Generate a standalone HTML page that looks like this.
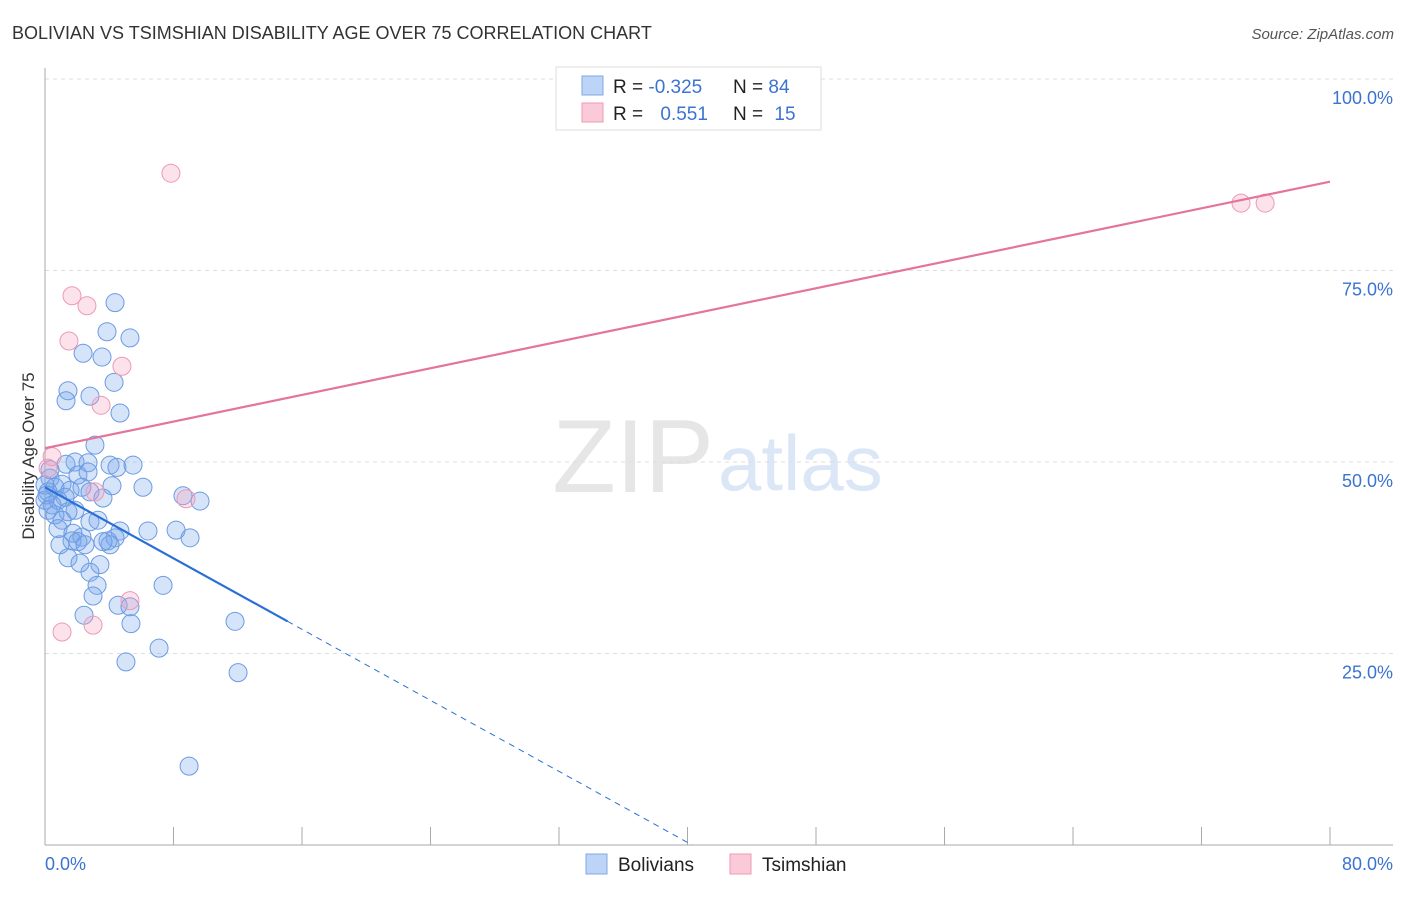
<!DOCTYPE html>
<html><head><meta charset="utf-8"><style>
body{margin:0;background:#fff;font-family:"Liberation Sans",sans-serif}
svg text{font-family:"Liberation Sans",sans-serif}
</style></head><body>
<svg id="c" width="1406" height="892" viewBox="0 0 1406 892" xmlns="http://www.w3.org/2000/svg">
<text x="12" y="39" font-size="18" fill="#333">BOLIVIAN VS TSIMSHIAN DISABILITY AGE OVER 75 CORRELATION CHART</text>
<text x="1394" y="39" font-size="15" fill="#555" font-style="italic" text-anchor="end">Source: ZipAtlas.com</text>
<text x="714" y="492" font-size="104" fill="#e6e6e6" text-anchor="end" font-family="Liberation Serif">ZIP</text>
<text x="718" y="490" font-size="78" fill="#dbe6f6">atlas</text>
<text transform="translate(34,456) rotate(-90)" font-size="17" fill="#333" text-anchor="middle">Disability Age Over 75</text>
<g id="grid"></g><g id="axes"></g><g id="pts"></g><g id="lines"></g>
<g>
<rect x="556" y="67" width="265" height="63" fill="#fff" stroke="#ddd"/>
<rect x="582" y="76" width="21" height="19" fill="#bcd4f5" stroke="#7fa9e8"/>
<rect x="582" y="103" width="21" height="19" fill="#fbcad8" stroke="#ef9ab5"/>
<text x="613" y="93" font-size="19" fill="#222">R = <tspan fill="#3b73d1">-0.325</tspan></text>
<text x="733" y="93" font-size="19" fill="#222">N = <tspan fill="#3b73d1">84</tspan></text>
<text x="613" y="120" font-size="19" fill="#222">R = <tspan fill="#3b73d1" dx="12">0.551</tspan></text>
<text x="733" y="120" font-size="19" fill="#222">N = <tspan fill="#3b73d1" dx="6">15</tspan></text>
</g>
<g>
<rect x="586" y="854" width="21" height="20" fill="#bcd4f5" stroke="#7fa9e8"/>
<text x="618" y="871" font-size="19" fill="#222">Bolivians</text>
<rect x="730" y="854" width="21" height="20" fill="#fbcad8" stroke="#ef9ab5"/>
<text x="762" y="871" font-size="19" fill="#222">Tsimshian</text>
</g>
</svg>
<script>
const blueX=[4.36,3.86,5.29,2.37,3.55,4.30,1.43,1.31,2.80,4.67,3.11,1.87,2.68,1.31,4.05,4.48,5.48,2.05,2.68,0.31,6.10,4.17,1.06,0.62,1.56,0.19,2.30,2.80,3.61,1.25,0.81,0,0.44,1.87,1.43,0.19,0.62,1.06,2.80,3.30,4.67,6.41,8.16,0.81,1.74,2.30,4.36,3.92,1.68,2.05,0.93,2.49,9.03,1.43,2.18,3.42,2.80,3.24,7.35,2.99,4.55,5.29,2.43,5.35,11.83,7.10,5.04,12.02,8.97,8.59,9.65,4.05,3.61,0.31,0,0.12];
const blueY=[70.8,67.0,66.2,64.2,63.7,60.4,59.3,58.0,58.6,56.4,52.2,50.0,49.9,49.7,49.6,49.3,49.6,48.3,48.7,47.9,46.7,46.9,47.1,46.7,46.3,46.1,46.7,46.1,45.3,45.4,45.0,45.0,44.4,43.7,43.5,43.7,43.1,42.4,42.2,42.4,41.0,41.0,41.1,41.3,40.7,40.2,40.1,39.7,39.7,39.6,39.2,39.2,40.1,37.5,36.8,36.6,35.6,33.9,33.9,32.5,31.3,31.1,30.0,28.9,29.2,25.7,23.9,22.5,10.3,45.6,44.9,39.2,39.6,49.0,47.0,45.7];
const pinkX=[7.84,1.68,2.61,1.49,4.79,3.49,0.44,0.19,3.11,8.78,5.29,2.99,1.06,74.46,75.96];
const pinkY=[87.7,71.7,70.4,65.8,62.5,57.4,50.7,49.2,46.1,45.2,31.9,28.7,27.8,83.8,83.8];
const yTicks=[25,50,75,100];
const yTickLabels=["25.0%","50.0%","75.0%","100.0%"];
const xTicks=[0,10,20,30,40,50,60,70,80,90,100].map(i=>i*0.8);
const xEndLabels=["0.0%","80.0%"];
const blueTrend=[46.7,-1.159];
const pinkTrend=[51.8,0.435];
const X=v=>45+v/80*1285, Y=v=>845-v/100*766;
const NS="http://www.w3.org/2000/svg";
function mk(p,t,a){const e=document.createElementNS(NS,t);for(const k in a)e.setAttribute(k,a[k]);p.appendChild(e);return e;}
const grid=document.getElementById('grid'),axes=document.getElementById('axes'),pts=document.getElementById('pts'),lines=document.getElementById('lines');
yTicks.forEach((t,i)=>{
 const l=mk(grid,'line',{x1:45,x2:1393,y1:Y(t),y2:Y(t),stroke:'#ddd','stroke-dasharray':'4,4'});
 
 
 const tx=mk(grid,'text',{x:1393,y:Y(t)+25,'font-size':18,fill:'#3b73d1','text-anchor':'end'});
 tx.textContent=yTickLabels[i];
 
 
});
let a=mk(axes,'line',{x1:45,x2:45,y1:68,y2:845,stroke:'#aaa'});


a=mk(axes,'line',{x1:45,x2:1393,y1:845,y2:845,stroke:'#aaa'});


xTicks.forEach(t=>{
 const l=mk(axes,'line',{x1:X(t),x2:X(t),y1:827,y2:845,stroke:'#aaa'});
 
 
});
let t1=mk(axes,'text',{x:45,y:870,'font-size':18,fill:'#3b73d1'});t1.textContent=xEndLabels[0];


let t2=mk(axes,'text',{x:1393,y:870,'font-size':18,fill:'#3b73d1','text-anchor':'end'});t2.textContent=xEndLabels[1];


blueX.forEach((x,i)=>{
 const c=mk(pts,'circle',{cx:X(x),cy:Y(blueY[i]),r:9,fill:'rgba(120,165,235,0.3)',stroke:'#6b9be3','stroke-width':1});
 
 
});
pinkX.forEach((x,i)=>{
 const c=mk(pts,'circle',{cx:X(x),cy:Y(pinkY[i]),r:9,fill:'rgba(245,160,190,0.3)',stroke:'#ec9ab5','stroke-width':1});
 
 
});
const bf=v=>blueTrend[0]+blueTrend[1]*v, pf=v=>pinkTrend[0]+pinkTrend[1]*v;
const x0=-blueTrend[0]/blueTrend[1];
let bl=mk(lines,'line',{x1:X(0),y1:Y(bf(0)),x2:X(15.1),y2:Y(bf(15.1)),stroke:'#2a6fd6','stroke-width':2.2});


let bd=mk(lines,'line',{x1:X(15.1),y1:Y(bf(15.1)),x2:X(x0),y2:Y(0),stroke:'#2a6fd6','stroke-width':1,'stroke-dasharray':'6,5'});


let pl=mk(lines,'line',{x1:X(0),y1:Y(pf(0)),x2:X(80),y2:Y(pf(80)),stroke:'#e5749a','stroke-width':2.2});


</script>
</body></html>
